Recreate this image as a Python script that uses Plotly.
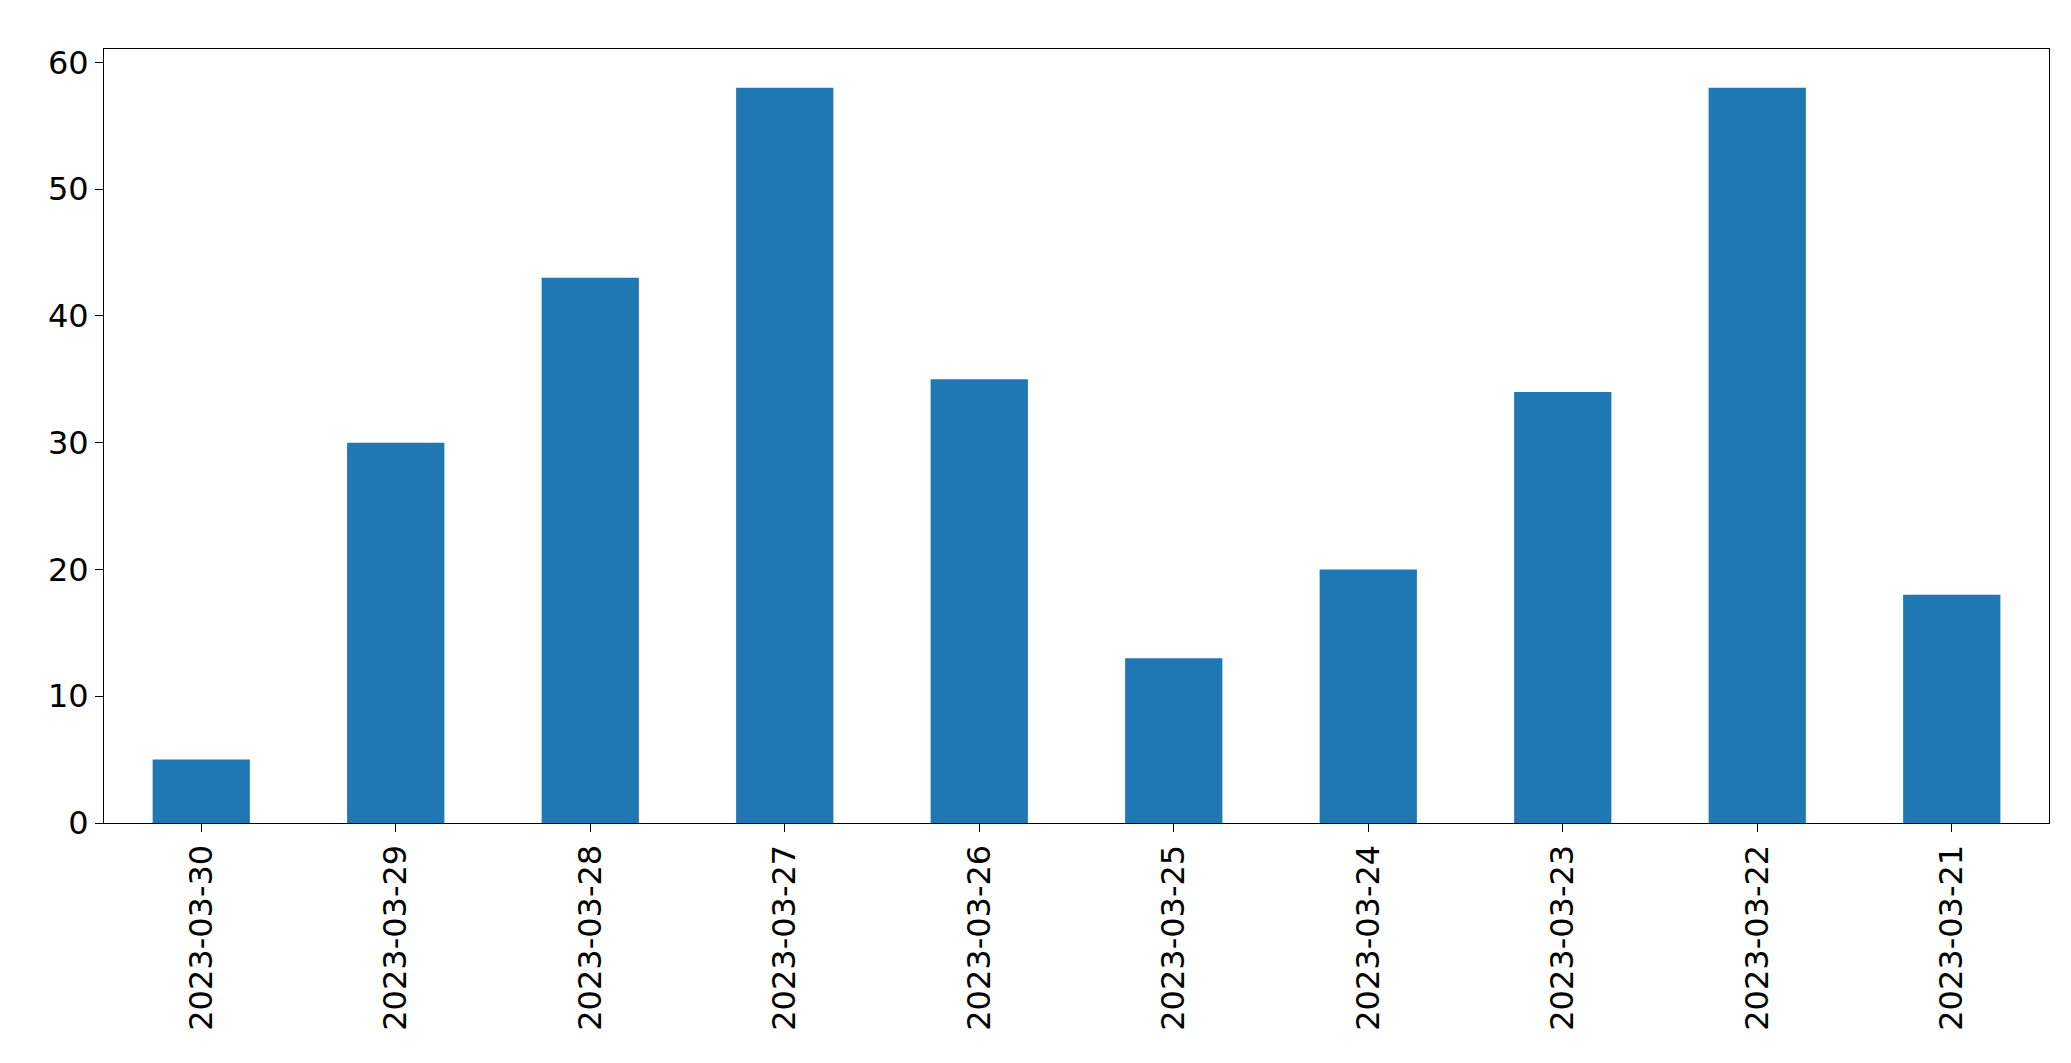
import plotly.graph_objects as go

dates = ["2023-03-30", "2023-03-29", "2023-03-28", "2023-03-27", "2023-03-26",
         "2023-03-25", "2023-03-24", "2023-03-23", "2023-03-22", "2023-03-21"]
counts = [5, 30, 43, 58, 35, 13, 20, 34, 58, 18]

fig = go.Figure(go.Bar(x=dates, y=counts, width=0.5, marker=dict(color="#1f77b4", line=dict(width=0))))

axis_style = dict(showline=True, linecolor="black", linewidth=1, mirror=True,
                  ticks="outside", ticklen=8, tickcolor="black", showgrid=False,
                  zeroline=False, tickfont=dict(family="DejaVu Sans", size=32, color="black"))

fig.update_layout(
    width=2071, height=1063,
    margin=dict(l=96, r=30, t=41, b=248),
    plot_bgcolor="white", paper_bgcolor="white",
    showlegend=False,
    xaxis=dict(type="category", range=[-0.5, 9.5], tickangle=-90, **axis_style),
    yaxis=dict(range=[0, 61.05], tickvals=[0, 10, 20, 30, 40, 50, 60], **axis_style),
)

fig.write_html("out.html")
